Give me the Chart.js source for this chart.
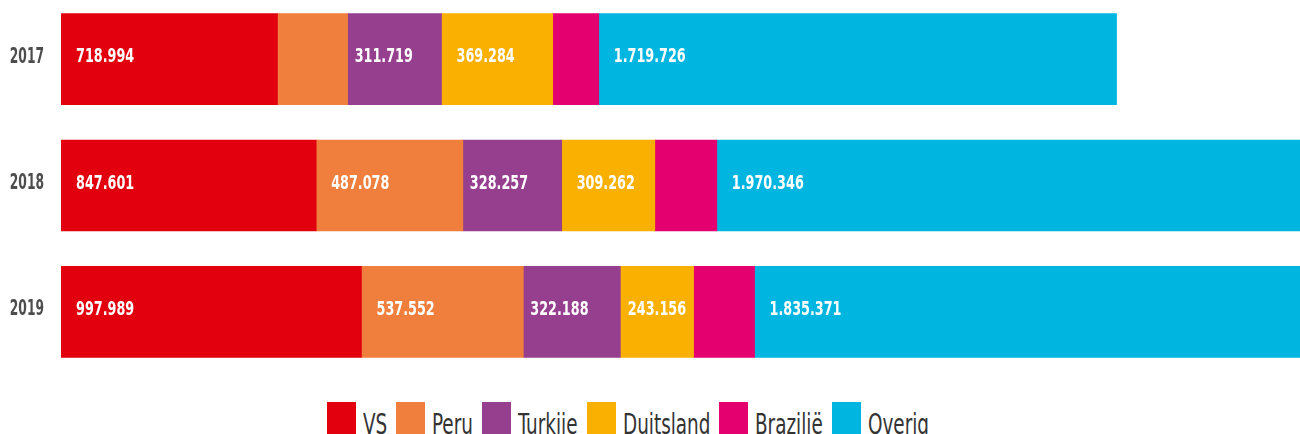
<!DOCTYPE html>
<html>
<head>
<meta charset="utf-8">
<script src="https://cdn.jsdelivr.net/npm/chart.js@4/dist/chart.umd.min.js"></script>
<style>
  body { margin: 0; background: #fff; }
  #wrap { position: relative; width: 1300px; height: 434px; overflow: hidden; }
  #plot { position: absolute; left: 0; top: -4px; width: 1300px; height: 379px; }
  #legend { position: absolute; left: 327px; top: 402px; display: flex; align-items: flex-start;
            font-family: "DejaVu Sans Condensed", "DejaVu Sans", sans-serif; font-size: 28px; color: #333; }
  #legend .box { width: 29px; height: 34px; margin-right: 7px; flex: none; }
  #legend .txt { display: inline-block; line-height: 1; margin-top: 9px; margin-right: 9px; white-space: nowrap; flex: none; }
  #legend .txt span { display: inline-block; transform-origin: left top; }
</style>
</head>
<body>
<div id="wrap">
  <div id="plot"><canvas id="chart"></canvas></div>
  <div id="legend"></div>
</div>
<script>
// jaren en landen
const years = ['2017', '2018', '2019'];
const series = ['VS', 'Peru', 'Turkije', 'Duitsland', 'Brazilië', 'Overig'];

// waarden per land (Peru 2017 en Brazilië geschat, niet in de grafiek vermeld)
const vs = [718994, 847601, 997989];
const peru = [233000, 487078, 537552];
const turkije = [311719, 328257, 322188];
const duitsland = [369284, 309262, 243156];
const brazilie = [153000, 206000, 202600];
const overig = [1719726, 1970346, 1835371];

const colors = ['#e2000f', '#f07e3c', '#963f8e', '#f9b000', '#e4006f', '#00b6e1'];
const values = [vs, peru, turkije, duitsland, brazilie, overig];

// smal lettertype nabootsen met horizontale schaal
const squeeze = 0.71;
const labelFont = 'bold 20px "DejaVu Sans Condensed", "DejaVu Sans", sans-serif';
const yearFont = 'bold 21px "DejaVu Sans Condensed", "DejaVu Sans", sans-serif';

function formatNL(v) {
  return String(v).replace(/\B(?=(\d{3})+(?!\d))/g, '.');
}

function squeezedText(ctx, text, x, y, sx) {
  ctx.save();
  ctx.translate(x, y);
  ctx.scale(sx, 1);
  ctx.fillText(text, 0, 0);
  ctx.restore();
}

// jaartallen links en witte waardes in de balken
const barText = {
  id: 'barText',
  afterDatasetsDraw(chart) {
    const ctx = chart.ctx;
    const yScale = chart.scales.y;
    const left = chart.chartArea.left;
    ctx.save();
    ctx.textBaseline = 'middle';

    ctx.font = yearFont;
    ctx.fillStyle = '#4d4d4d';
    ctx.textAlign = 'right';
    years.forEach((yr, j) => {
      squeezedText(ctx, yr, left - 17, yScale.getPixelForValue(j) - 2, 0.65);
    });

    ctx.font = labelFont;
    ctx.fillStyle = '#fff';
    ctx.textAlign = 'left';
    chart.data.datasets.forEach((ds, i) => {
      chart.getDatasetMeta(i).data.forEach((bar, j) => {
        const p = bar.getProps(['x', 'y', 'base'], true);
        const w = p.x - p.base;
        if (w < 72) return;
        const text = formatNL(ds.data[j]);
        const tw = ctx.measureText(text).width * squeeze;
        let pad = ds.label === 'Turkije' ? 7 : 15;
        if (tw + 2 * pad > w) pad = (w - tw) / 2;
        squeezedText(ctx, text, p.base + pad, p.y - 2, squeeze);
      });
    });
    ctx.restore();
  }
};

const chart = new Chart(document.getElementById('chart'), {
  type: 'bar',
  data: {
    labels: years,
    datasets: series.map((name, i) => ({
      label: name,
      data: values[i],
      backgroundColor: colors[i],
      borderWidth: 0,
      barThickness: 91
    }))
  },
  options: {
    indexAxis: 'y',
    responsive: true,
    maintainAspectRatio: false,
    animation: false,
    layout: { padding: { left: 61, right: 0, top: 0, bottom: 0 } },
    plugins: {
      legend: { display: false },
      tooltip: { enabled: false }
    },
    scales: {
      x: { stacked: true, display: false, min: 0, max: 4115000 },
      y: { stacked: true, display: false }
    }
  },
  plugins: [barText]
});

// legenda onder de grafiek
const legend = document.getElementById('legend');
const legendSqueeze = 0.73;
series.forEach((name, i) => {
  const box = document.createElement('span');
  box.className = 'box';
  box.style.background = colors[i];
  const txt = document.createElement('span');
  txt.className = 'txt';
  const inner = document.createElement('span');
  inner.textContent = name;
  inner.style.transform = 'scaleX(' + legendSqueeze + ')';
  txt.appendChild(inner);
  legend.appendChild(box);
  legend.appendChild(txt);
  txt.style.width = (inner.offsetWidth * legendSqueeze) + 'px';
});
</script>
</body>
</html>
